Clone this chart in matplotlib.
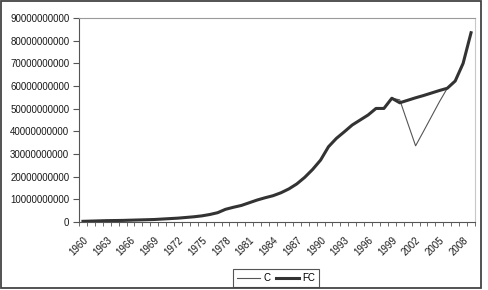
import matplotlib
matplotlib.use("Agg")
import matplotlib.pyplot as plt
import matplotlib.transforms as mtransforms
import numpy as np
from matplotlib.patches import Rectangle

plt.rcParams['font.family'] = ['Liberation Sans', 'DejaVu Sans']

years = list(range(1960, 2010))

# values in billions
fc = [0.3, 0.4, 0.5, 0.6, 0.65, 0.7, 0.8, 0.9, 1.0, 1.1,
      1.3, 1.5, 1.7, 2.0, 2.3, 2.7, 3.3, 4.1, 5.6, 6.5,
      7.3, 8.5, 9.7, 10.7, 11.6, 12.9, 14.6, 16.8, 19.7, 23.2,
      27.3, 33.2, 36.9, 39.8, 42.8, 45.0, 47.2, 50.1, 50.1, 54.6,
      52.6, 53.7, 54.8, 55.8, 56.9, 58.0, 59.0, 62.2, 70.0, 83.5]
c = fc[:40] + [53.9, 43.7, 33.6, 40.0, 46.5, 53.0, 59.0, 62.2, 70.0, 83.5]

fc = np.array(fc) * 1e9
c = np.array(c) * 1e9

fig = plt.figure(figsize=(4.88, 2.90), dpi=100)
ax = fig.add_axes([79/488, 1 - 222/290, (475-79)/488, (222-18)/290])

x = np.arange(len(years))
ax.plot(x, c, color='#555555', linewidth=0.8, label='C')
ax.plot(x, fc, color='#333333', linewidth=2.2, label='FC')

ax.set_xlim(-0.5, len(years) - 0.5)
ax.set_ylim(0, 90e9)
ax.set_yticks(np.arange(0, 91e9, 10e9))
ax.set_yticklabels([str(int(v)) for v in np.arange(0, 91, 10) * 1000000000])

ax.set_xticks(x[::3])
ax.set_xticklabels([str(y) for y in years[::3]], rotation=45, ha='right',
                   va='top', rotation_mode='anchor')
shift = mtransforms.ScaledTranslation(-3/100, 0, fig.dpi_scale_trans)
for lbl in ax.get_xticklabels():
    lbl.set_transform(lbl.get_transform() + shift)
ax.set_xticks(np.arange(-0.5, len(years)), minor=True)
ax.tick_params(axis='x', which='major', length=0, pad=9.5, labelsize=7, colors='#1a1a1a')
ax.tick_params(axis='x', which='minor', length=3, color='#555555')
ax.tick_params(axis='y', length=4, pad=3, labelsize=7, colors='#1a1a1a', color='#555555')

ax.spines['left'].set_color('#555555')
ax.spines['bottom'].set_color('#555555')
ax.spines['top'].set_color('#999999')
ax.spines['right'].set_color('#c8c8c8')

leg = ax.legend(loc='lower center', bbox_to_anchor=(276/488, 1 - 287/290),
                bbox_transform=fig.transFigure, ncol=2, fontsize=7,
                frameon=True, fancybox=False, framealpha=1, edgecolor='#555555',
                handlelength=2.4, handletextpad=0.3, columnspacing=0.6,
                borderpad=0.4, borderaxespad=0)
leg.get_frame().set_linewidth(0.8)

fig.patches.append(Rectangle((1/488, 1 - 288/290), 480/488, 287/290,
                             transform=fig.transFigure, fill=False,
                             edgecolor='#444444', linewidth=1.3))

fig.savefig('out.png', dpi=100)
